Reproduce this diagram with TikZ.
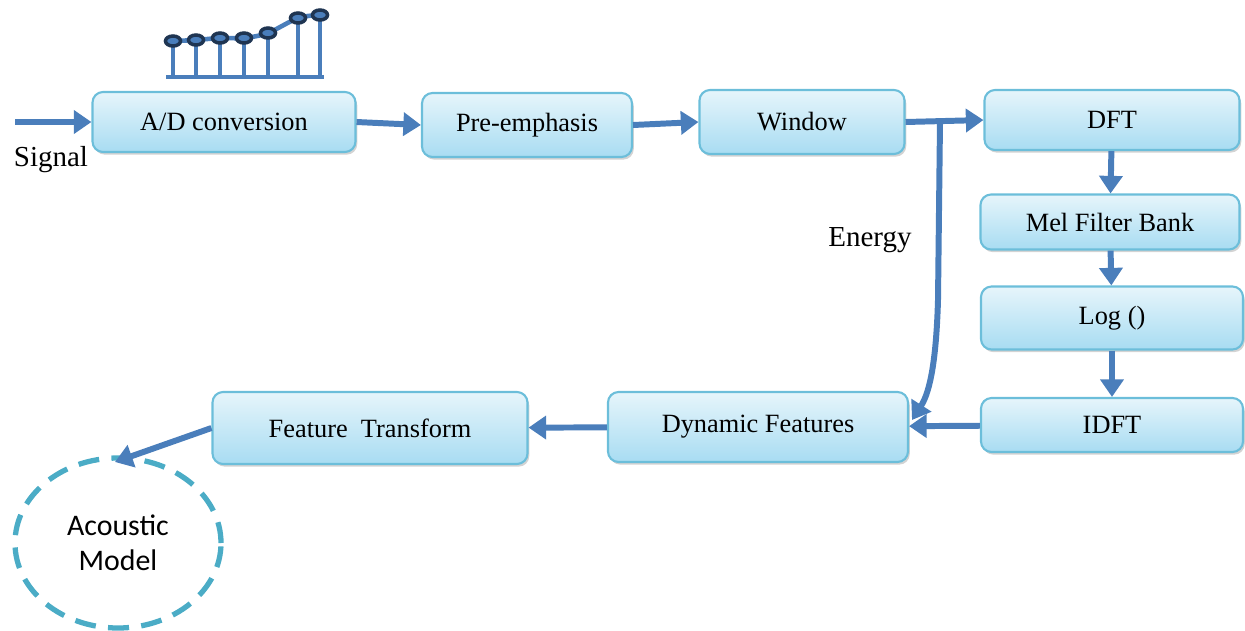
\documentclass[tikz,border=0pt]{standalone}
\usepackage{fontspec}
\setmainfont{Liberation Serif}
\newfontfamily\calfont{Carlito}
\usetikzlibrary{arrows.meta,shadows,shapes.geometric}
\definecolor{arrblue}{HTML}{4A7EBB}
\definecolor{boxline}{HTML}{6CBEDA}
\definecolor{boxtop}{HTML}{E6F5FB}
\definecolor{boxbot}{HTML}{A8DCF2}
\definecolor{amline}{HTML}{4BACC6}
\definecolor{navy}{HTML}{1F3552}
\begin{document}
\begin{tikzpicture}[x=0.02cm,y=-0.02cm,
  blk/.style={draw=boxline,line width=1.2pt,rounded corners=6pt,top color=boxtop,bottom color=boxbot,
    drop shadow={shadow xshift=1pt,shadow yshift=-1.5pt,opacity=0.35},
    font=\fontsize{15}{17}\selectfont,inner sep=0pt},
  arr/.style={draw=arrblue,line width=3.4pt,-{Triangle[length=10pt,width=13pt]}},
  lbl/.style={font=\fontsize{16.5}{19}\selectfont}]
\useasboundingbox(0,0)rectangle(1245,630);
% stem plot
\draw[arrblue,line width=2.6pt](166,77)--(324,77);
\foreach \x/\y in {173/41,196/40,220/38,244/38,268/33,298/18,320/15}
  \draw[arrblue,line width=2.6pt](\x,77)--(\x,\y);
\draw[arrblue,line width=2.6pt]plot[smooth]coordinates{(173,41)(196,40)(220,38)(244,38)(268,33)(298,18)(320,15)};
\foreach \x/\y in {173/41,196/40,220/38,244/38,268/33,298/18,320/15}
  \draw[navy,fill=arrblue,line width=2pt](\x,\y)ellipse[x radius=7.5,y radius=5];
% blocks
\node[blk,minimum width=263*0.02cm,minimum height=60*0.02cm](ad)at(224,122){A/D conversion};
\node[blk,minimum width=210*0.02cm,minimum height=64*0.02cm](pre)at(527,125){Pre-emphasis};
\node[blk,minimum width=205*0.02cm,minimum height=64*0.02cm](win)at(802,122){Window};
\node[blk,minimum width=255*0.02cm,minimum height=60*0.02cm](dft)at(1112,120){DFT};
\node[blk,minimum width=259*0.02cm,minimum height=55*0.02cm](mel)at(1110,222){Mel Filter Bank};
\node[blk,minimum width=262*0.02cm,minimum height=63*0.02cm](log)at(1112,318){Log ()};
\node[blk,minimum width=262*0.02cm,minimum height=54*0.02cm](idft)at(1112,425){IDFT};
\node[blk,minimum width=300*0.02cm,minimum height=70*0.02cm](dyn)at(758,427){Dynamic Features};
\node[blk,minimum width=315*0.02cm,minimum height=72*0.02cm](ft)at(370,428){Feature\ \ Transform};
\node[ellipse,draw=amline,line width=3pt,dash pattern=on 12pt off 7pt,minimum width=206*0.02cm,
  minimum height=170*0.02cm,align=center,font=\calfont\fontsize{17}{20}\selectfont](am)at(118,543){Acoustic\\Model};
\node[lbl](sig)at(51,160){Signal};
\node[lbl](en)at(870,240){Energy};
\coordinate(in)at(15,122);
\coordinate(br)at(940,122);
\coordinate(entip)at(912,420);
\coordinate(amtip)at(115,462);
% connectors
\draw[arr](in)--(ad);
\draw[arr](ad.east)--(pre.west);
\draw[arr](pre.east)--(win.west);
\draw[arr](win.east)--(dft.west);
\draw[arr](br)--(938,300).. controls (936,370) and (928,395) ..(entip);
\draw[arr](dft)--(mel);
\draw[arr](mel)--(log);
\draw[arr](log)--(idft);
\draw[arr](idft)--(dyn);
\draw[arr](dyn)--(ft);
\draw[arr](ft.west)--(amtip);
\end{tikzpicture}
\end{document}
